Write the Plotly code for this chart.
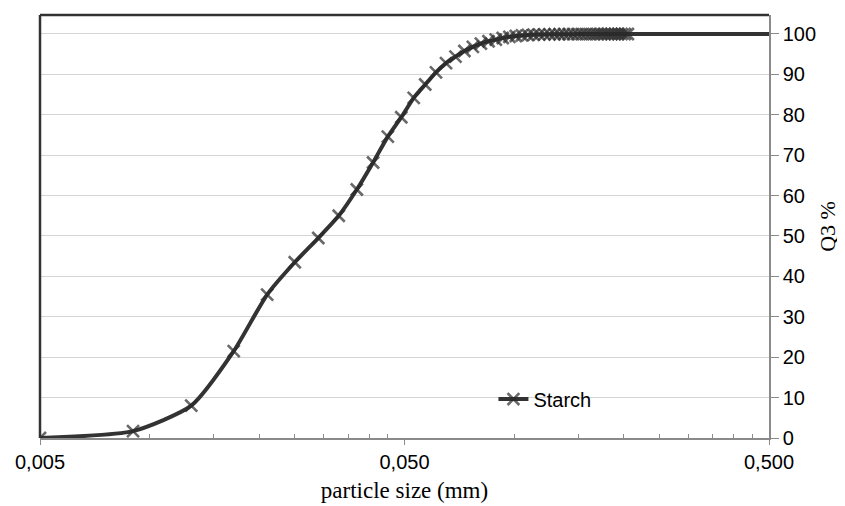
import math
import plotly.graph_objects as go

# particle size bins (mm) and cumulative volume fraction Q3 (%)
size_mm = [0.005, 0.009, 0.013, 0.017, 0.021, 0.025, 0.029, 0.033, 0.037, 0.041,
           0.045, 0.049, 0.053, 0.057, 0.061, 0.065, 0.069, 0.073, 0.077, 0.081,
           0.085, 0.089, 0.093, 0.097, 0.101, 0.105, 0.109, 0.113, 0.117, 0.121,
           0.125, 0.129, 0.133, 0.137, 0.141, 0.145, 0.149, 0.153, 0.157, 0.161,
           0.165, 0.169, 0.173, 0.177, 0.181, 0.185, 0.189, 0.193, 0.197, 0.201,
           0.205, 0.5]
q3_pct = [0.0, 1.7, 8.0, 21.5, 35.5, 43.5, 49.5, 55.0, 61.5, 68.2,
          74.6, 79.4, 84.2, 87.5, 90.5, 92.8, 94.4, 95.8, 96.8, 97.6,
          98.2, 98.6, 99.0, 99.3, 99.5, 99.65, 99.75, 99.82, 99.87, 99.9,
          99.92, 99.93, 99.94, 99.95, 99.96, 99.96, 99.97, 99.97, 99.98, 99.98,
          99.98, 99.99, 99.99, 99.99, 99.99, 100.0, 100.0, 100.0, 100.0, 100.0,
          100.0, 100.0]

x_tickvals = [0.005, 0.05, 0.5]
x_ticktext = ["0,005", "0,050", "0,500"]
x_minor = [0.01, 0.015, 0.02, 0.025, 0.03, 0.035, 0.04, 0.045,
           0.1, 0.15, 0.2, 0.25, 0.3, 0.35, 0.4, 0.45]
y_tickvals = [0, 10, 20, 30, 40, 50, 60, 70, 80, 90, 100]

DARK = "#333333"
AXIS = "#8a8a8a"
SERIF = "Liberation Serif, Times New Roman"

# markers on all measured bins, plain line out to the axis end
marker_sizes = [12] * (len(size_mm) - 1) + [0]

fig = go.Figure()
fig.add_trace(go.Scatter(
    x=size_mm, y=q3_pct, name="Starch", mode="lines+markers",
    line=dict(color=DARK, width=4, shape="spline", smoothing=0.6),
    marker=dict(symbol="x-thin", size=marker_sizes, color=DARK,
                line=dict(color="#2a2a2a", width=2.6)),
))

# page body adds an 8px offset, so the figure is shrunk by that much
fig.update_layout(
    width=837, height=498,
    margin=dict(l=27, r=76, t=7, b=67),
    paper_bgcolor="white", plot_bgcolor="white",
    font=dict(family="Liberation Sans, Arial", size=20, color="black"),
    showlegend=True,
    legend=dict(x=0.622, y=0.092, xanchor="left", yanchor="middle",
                bgcolor="rgba(0,0,0,0)", font=dict(size=20),
                itemwidth=30),
    shapes=[
        dict(type="line", xref="paper", yref="paper", x0=0, x1=1, y0=1, y1=1,
             line=dict(color=DARK, width=2.5)),
        dict(type="line", xref="paper", yref="paper", x0=0, x1=0, y0=0, y1=1,
             line=dict(color=DARK, width=2.5)),
    ],
)

fig.update_xaxes(
    type="log", range=[math.log10(0.005), math.log10(0.5)],
    tickmode="array", tickvals=x_tickvals, ticktext=x_ticktext,
    ticks="outside", ticklen=5, tickcolor=AXIS,
    showline=True, linecolor=AXIS, linewidth=1.5,
    showgrid=False, zeroline=False,
    minor=dict(tickmode="array", tickvals=x_minor, ticks="inside",
               ticklen=4, tickcolor=AXIS, showgrid=False),
    title=dict(text="particle size (mm)", standoff=10,
               font=dict(family=SERIF, size=23)),
)

fig.update_yaxes(
    side="right", range=[0, 104.7],
    tickmode="array", tickvals=y_tickvals,
    ticks="outside", ticklen=8, tickcolor=AXIS,
    showline=True, linecolor=AXIS, linewidth=1.5,
    showgrid=True, gridcolor="#d4d4d4", gridwidth=1.2,
    zeroline=False,
    title=dict(text="Q3 %", standoff=4,
               font=dict(family=SERIF, size=22)),
)

fig.write_html("out.html")
